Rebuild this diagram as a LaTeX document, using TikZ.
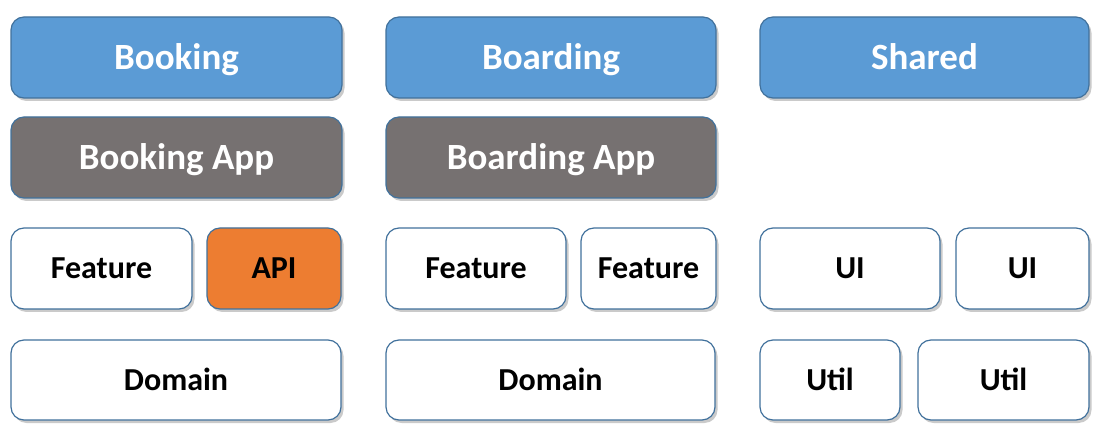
\documentclass[tikz,border=0pt]{standalone}
\usepackage{fontspec}
\setmainfont{Carlito}
\usetikzlibrary{shadows}
\definecolor{hblue}{HTML}{5B9BD5}
\definecolor{hgray}{HTML}{767171}
\definecolor{horange}{HTML}{ED7D31}
\definecolor{hborder}{HTML}{41719C}
\begin{document}
\begin{tikzpicture}[x=1pt,y=-1pt,
  box/.style={draw=hborder, line width=1.2pt, rounded corners=13pt, inner sep=0pt,
    font=\bfseries\fontsize{32}{36}\selectfont, text=black, fill=white,
    text height=20.2pt, text depth=0pt,
    drop shadow={shadow xshift=2.5pt, shadow yshift=-3pt, opacity=0.35, fill=black!60}},
  head/.style={box, fill=hblue, text=white, font=\bfseries\fontsize{37}{42}\selectfont, text height=23.3pt},
  app/.style={box, fill=hgray, text=white, font=\bfseries\fontsize{37}{42}\selectfont, text height=23.3pt},
  api/.style={box, fill=horange},
]
\useasboundingbox (0,0) rectangle (1114,438);
% row 1
\node[head, minimum width=331pt, minimum height=81pt] (booking) at (176.5,57.5) {Booking};
\node[head, minimum width=330pt, minimum height=81pt] (boarding) at (551,57.5) {Boarding};
\node[head, minimum width=329pt, minimum height=81pt] (shared) at (924.5,57.5) {Shared};
% row 2
\node[app, minimum width=331pt, minimum height=81pt] (bookingapp) at (176.5,157.5) {Booking App};
\node[app, minimum width=330pt, minimum height=81pt] (boardingapp) at (551,157.5) {Boarding App};
% row 3
\node[box, minimum width=181pt, minimum height=81pt] (feat1) at (101.5,268.5) {Feature};
\node[api, minimum width=134pt, minimum height=81pt] (api) at (274,268.5) {API};
\node[box, minimum width=180pt, minimum height=81pt] (feat2) at (476,268.5) {Feature};
\node[box, minimum width=135pt, minimum height=81pt] (feat3) at (648.5,268.5) {Feature};
\node[box, minimum width=180pt, minimum height=81pt] (ui1) at (850,268.5) {UI};
\node[box, minimum width=133pt, minimum height=81pt] (ui2) at (1022.5,268.5) {UI};
% row 4
\node[box, minimum width=330pt, minimum height=80pt] (domain1) at (176,380) {Domain};
\node[box, minimum width=329pt, minimum height=80pt] (domain2) at (550.5,380) {Domain};
\node[box, minimum width=140pt, minimum height=80pt] (util1) at (830,380) {Util};
\node[box, minimum width=171pt, minimum height=80pt] (util2) at (1003.5,380) {Util};
\end{tikzpicture}
\end{document}
